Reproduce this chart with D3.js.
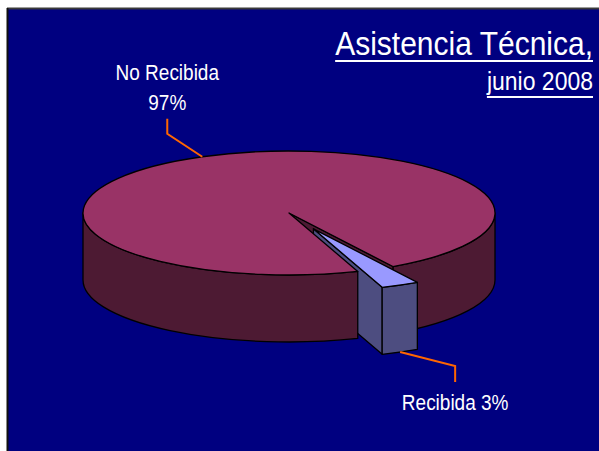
<!DOCTYPE html>
<html>
<head>
<meta charset="utf-8">
<script src="https://cdn.jsdelivr.net/npm/d3@7/dist/d3.min.js"></script>
<style>
  body { margin: 0; background: #fff; }
  text { font-family: "Liberation Sans", Arial, sans-serif; fill: #fff; }
</style>
</head>
<body>
<div id="chart"></div>
<script>
// data
var categories = ["Recibida", "No Recibida"];
var values = [3, 97];
var labelLines = [["Recibida 3%"], ["No Recibida", "97%"]];
var titleLines = ["Asistencia Técnica,", "junio 2008"];

var width = 599, height = 451;
var svg = d3.select("#chart").append("svg")
    .attr("width", width).attr("height", height);

// panel
svg.append("rect").attr("x", 7).attr("y", 8)
    .attr("width", width - 7).attr("height", height - 8)
    .attr("fill", "#000080");
svg.append("line").attr("x1", 7).attr("x2", width).attr("y1", 8.5).attr("y2", 8.5)
    .attr("stroke", "#3a3a3a").attr("stroke-width", 2);
svg.append("line").attr("x1", 7.5).attr("x2", 7.5).attr("y1", 8).attr("y2", height)
    .attr("stroke", "#111").attr("stroke-width", 2);

// pie geometry
var cx = 289, cy = 213, rx = 206, ry = 62, depth = 67, explode = 58;
var start = 149.7 * Math.PI / 180;

var pie = d3.pie().sort(null).value(function(d) { return d; })
    .startAngle(start).endAngle(start + 2 * Math.PI);
var arcs = pie(values);

var topColor = d3.scaleOrdinal().domain(categories).range(["#9999ff", "#993366"]);
var sideColor = d3.scaleOrdinal().domain(categories).range(["#4d4d80", "#4d1a33"]);

function offsetOf(d, i) {
  if (i !== 0) return [0, 0];
  var mid = (d.startAngle + d.endAngle) / 2;
  return [explode * Math.sin(mid), -explode * Math.cos(mid) * ry / rx];
}
function pt(a, dz, off) {
  return [cx + off[0] + rx * Math.sin(a), cy + off[1] - ry * Math.cos(a) + dz];
}
function rimPath(a0, a1, off) {
  var p0 = pt(a0, 0, off), p1 = pt(a1, 0, off), q1 = pt(a1, depth, off), q0 = pt(a0, depth, off);
  return "M" + p0 + "A" + rx + "," + ry + " 0 0 1 " + p1 + "L" + q1 +
         "A" + rx + "," + ry + " 0 0 0 " + q0 + "Z";
}
function rims(d, off) {
  var out = [];
  for (var k = 0; k < 2; k++) {
    var lo = Math.max(d.startAngle, Math.PI / 2 + 2 * Math.PI * k);
    var hi = Math.min(d.endAngle, 3 * Math.PI / 2 + 2 * Math.PI * k);
    if (hi > lo) out.push(rimPath(lo, hi, off));
  }
  return out;
}
function cutPath(a, off) {
  var c = [cx + off[0], cy + off[1]];
  var cb = [c[0], c[1] + depth];
  return "M" + c + "L" + pt(a, 0, off) + "L" + pt(a, depth, off) + "L" + cb + "Z";
}

var arc = d3.arc().innerRadius(0).outerRadius(rx);
var g = svg.append("g").attr("stroke", "#000").attr("stroke-width", 1.3)
    .attr("stroke-linejoin", "round");

var big = arcs[1], small = arcs[0];
var bigOff = offsetOf(big, 1), smallOff = offsetOf(small, 0);
var bigRims = rims(big, bigOff);

function face(path, fill) {
  g.append("path").attr("d", path).attr("fill", fill);
}
function topFace(d, off, fill) {
  g.append("path").attr("d", arc(d))
    .attr("transform", "translate(" + (cx + off[0]) + "," + (cy + off[1]) + ") scale(1," + (ry / rx) + ")")
    .attr("vector-effect", "non-scaling-stroke")
    .attr("fill", fill);
}

// back-to-front
face(bigRims[1], sideColor(categories[1]));
face(cutPath(big.endAngle, bigOff), sideColor(categories[1]));
face(cutPath(small.endAngle, smallOff), sideColor(categories[0]));
rims(small, smallOff).forEach(function(p) { face(p, sideColor(categories[0])); });
topFace(small, smallOff, topColor(categories[0]));
face(bigRims[0], sideColor(categories[1]));
topFace(big, bigOff, topColor(categories[1]));

// leader lines and labels
var bigMid = (big.startAngle + big.endAngle) / 2;
var smallMid = (small.startAngle + small.endAngle) / 2;
var a1 = pt(bigMid, 0, bigOff);
var e1 = [a1[0] - 35, a1[1] - 23], f1 = [e1[0], e1[1] - 15];
var a2 = pt(smallMid, depth, smallOff);
var e2 = [a2[0] + 55, a2[1] + 14], f2 = [e2[0], e2[1] + 16];

var leader = d3.line();
svg.append("path").attr("d", leader([a1, e1, f1]))
    .attr("fill", "none").attr("stroke", "#ff6600").attr("stroke-width", 2);
svg.append("path").attr("d", leader([a2, e2, f2]))
    .attr("fill", "none").attr("stroke", "#ff6600").attr("stroke-width", 2);

function stretchedText(x, y, str, size, anchor) {
  return svg.append("text")
    .attr("transform", "translate(" + x + "," + y + ") scale(1,1.12)")
    .attr("text-anchor", anchor)
    .attr("font-size", size)
    .text(str);
}
stretchedText(f1[0], f1[1] - 39, labelLines[1][0], 19, "middle");
stretchedText(f1[0], f1[1] - 9, labelLines[1][1], 19, "middle");
stretchedText(f2[0], f2[1] + 28, labelLines[0][0], 19, "middle");

// title, right aligned and underlined
var t1 = stretchedText(593, 55, titleLines[0], 30, "end");
var t2 = stretchedText(593, 90, titleLines[1], 23, "end");
[[t1, 61], [t2, 97]].forEach(function(t) {
  var w = t[0].node().getComputedTextLength();
  svg.append("line").attr("x1", 593 - w).attr("x2", 593)
    .attr("y1", t[1]).attr("y2", t[1])
    .attr("stroke", "#fff").attr("stroke-width", 2);
});
</script>
</body>
</html>
